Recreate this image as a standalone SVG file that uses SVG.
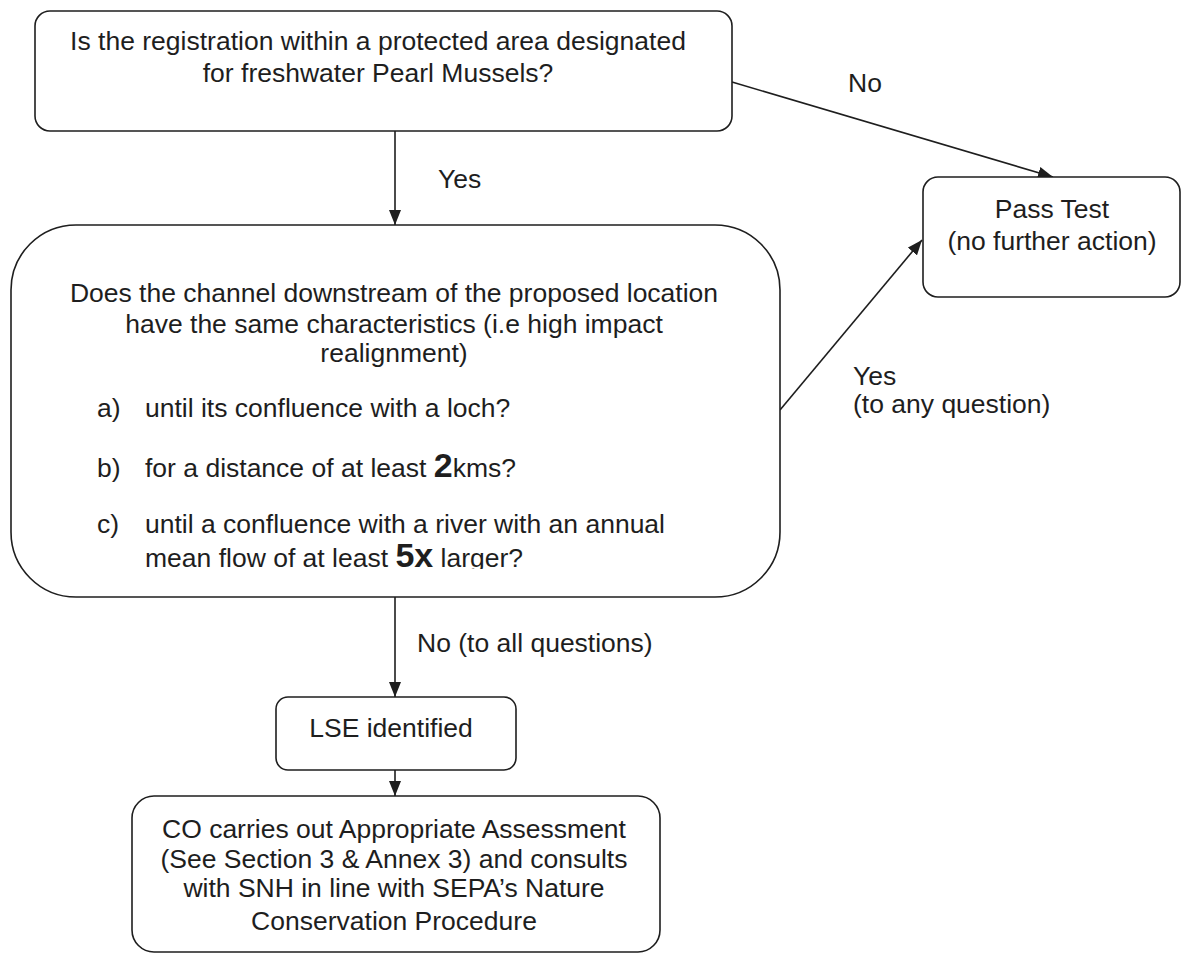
<svg xmlns="http://www.w3.org/2000/svg" width="1182" height="958" viewBox="0 0 1182 958">
  <style>
    .box { fill: #ffffff; stroke: #1e1e1e; stroke-width: 1.6; }
    .edge { fill: none; stroke: #1e1e1e; stroke-width: 1.6; }
    text { font-family: "Liberation Sans", Arial, sans-serif; font-size: 26.5px; fill: #1e1e1e; }
    .mid { text-anchor: middle; }
    .big { font-weight: bold; font-size: 34px; }
  </style>
  <defs>
    <marker id="arrow" markerUnits="userSpaceOnUse" markerWidth="15" markerHeight="12" refX="15" refY="6" orient="auto">
      <path d="M0,0 L15,6 L0,12 Z" fill="#1e1e1e"/>
    </marker>
    <clipPath id="clip-q2">
      <rect x="11" y="225" width="770" height="344"/>
    </clipPath>
  </defs>

  <rect width="1182" height="958" fill="#ffffff"/>

  <!-- connectors -->
  <g id="connectors">
    <line class="edge" x1="395" y1="131" x2="395" y2="225" marker-end="url(#arrow)"/>
    <line class="edge" x1="732" y1="82" x2="1053" y2="177" marker-end="url(#arrow)"/>
    <line class="edge" x1="780" y1="410" x2="922" y2="240" marker-end="url(#arrow)"/>
    <line class="edge" x1="395" y1="597" x2="395" y2="697" marker-end="url(#arrow)"/>
    <line class="edge" x1="395" y1="770" x2="395" y2="796" marker-end="url(#arrow)"/>
    <text x="438" y="188">Yes</text>
    <text x="848" y="92">No</text>
    <text x="853" y="385">Yes</text>
    <text x="853" y="413">(to any question)</text>
    <text x="417" y="652">No (to all questions)</text>
  </g>

  <!-- question 1 -->
  <g id="q1">
    <rect class="box" x="35" y="11" width="697" height="120" rx="15" ry="15"/>
    <text class="mid" x="378" y="50">Is the registration within a protected area designated</text>
    <text class="mid" x="378" y="82">for freshwater Pearl Mussels?</text>
  </g>

  <!-- pass outcome -->
  <g id="pass">
    <rect class="box" x="923" y="177" width="257" height="120" rx="15" ry="15"/>
    <text class="mid" x="1052" y="218">Pass Test</text>
    <text class="mid" x="1052" y="250">(no further action)</text>
  </g>

  <!-- question 2 -->
  <g id="q2">
    <rect class="box" x="11" y="225" width="769" height="372" rx="65" ry="65"/>
    <g clip-path="url(#clip-q2)">
      <text class="mid" x="394" y="302">Does the channel downstream of the proposed location</text>
      <text class="mid" x="394" y="333">have the same characteristics (i.e high impact</text>
      <text class="mid" x="394" y="362">realignment)</text>
      <text x="97" y="417">a)</text>
      <text x="145" y="417">until its confluence with a loch?</text>
      <text x="97" y="477">b)</text>
      <text x="145" y="477">for a distance of at least <tspan class="big">2</tspan>kms?</text>
      <text x="97" y="533">c)</text>
      <text x="145" y="533">until a confluence with a river with an annual</text>
      <text x="145" y="567">mean flow of at least <tspan class="big">5x</tspan> larger?</text>
    </g>
  </g>

  <!-- likely significant effect -->
  <g id="lse">
    <rect class="box" x="276" y="697" width="240" height="73" rx="12" ry="12"/>
    <text class="mid" x="391" y="737">LSE identified</text>
  </g>

  <!-- appropriate assessment -->
  <g id="assessment">
    <rect class="box" x="132" y="796" width="528" height="156" rx="22" ry="22"/>
    <text class="mid" x="394" y="838">CO carries out Appropriate Assessment</text>
    <text class="mid" x="394" y="868">(See Section 3 &amp; Annex 3) and consults</text>
    <text class="mid" x="394" y="897">with SNH in line with SEPA’s Nature</text>
    <text class="mid" x="394" y="930">Conservation Procedure</text>
  </g>
</svg>
